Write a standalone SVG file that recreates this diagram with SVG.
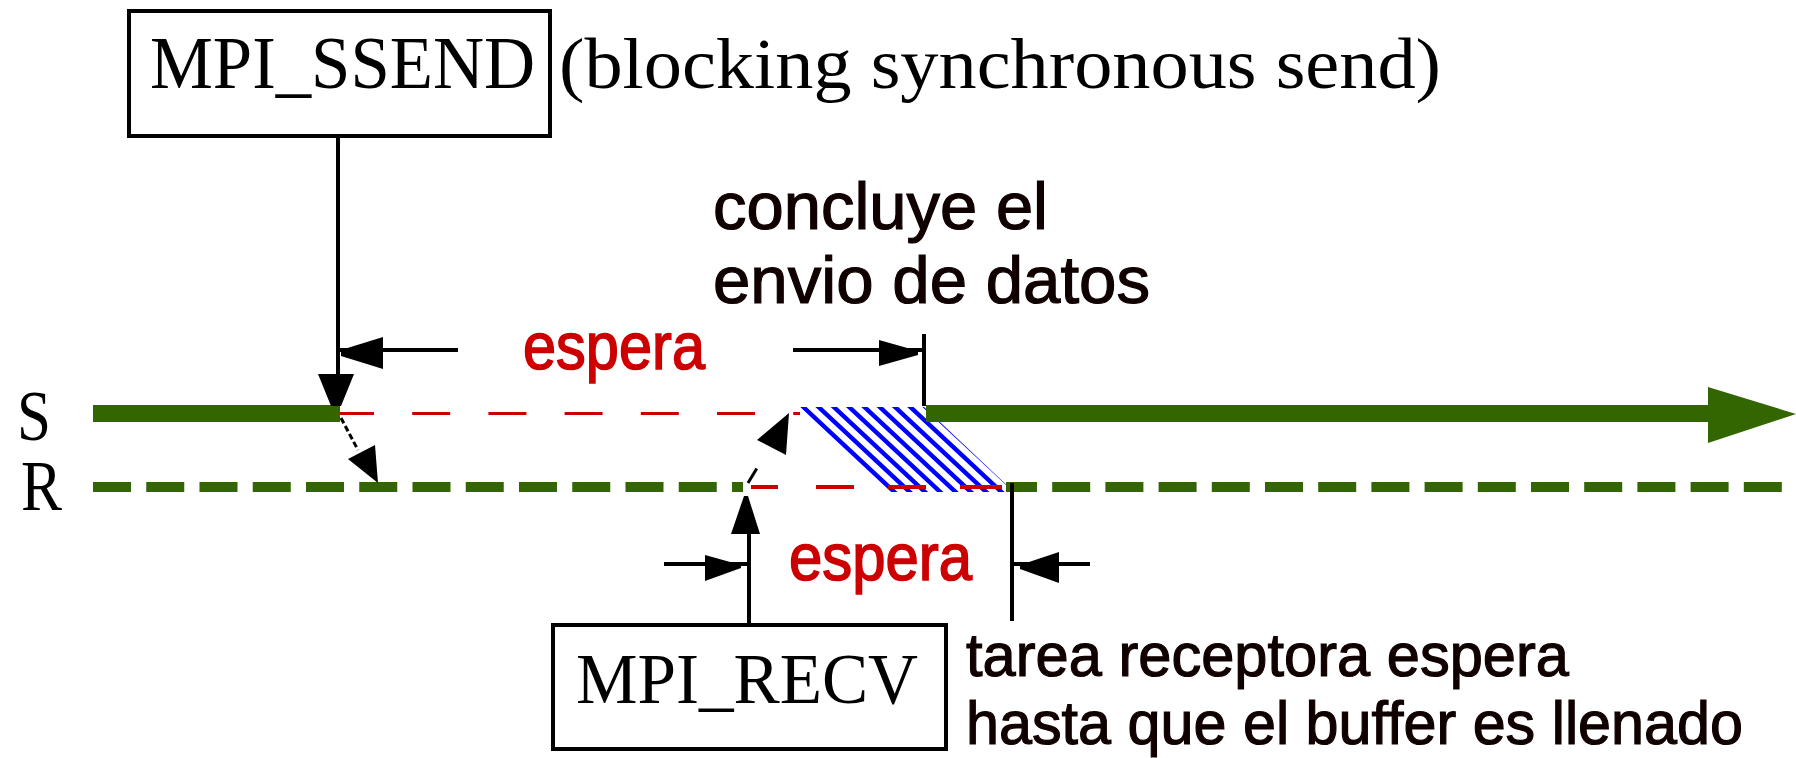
<svg xmlns="http://www.w3.org/2000/svg" width="1796" height="758" viewBox="0 0 1796 758">
  <style>
    .serif { font-family: "Liberation Serif", "Times New Roman", serif; fill: #000; }
    .sans  { font-family: "Liberation Sans", Arial, sans-serif; fill: #100000; stroke: #100000; stroke-width: 1.2; }
    .wait  { font-family: "Liberation Sans", Arial, sans-serif; fill: #cc0000; stroke: #cc0000; stroke-width: 1.6; }
    .box   { fill: #fff; stroke: #000; stroke-width: 4; }
    .dim   { stroke: #000; stroke-width: 4; fill: none; }
    .head  { fill: #000; stroke: none; }
    .dot   { stroke: #000; stroke-width: 3; fill: none; }
    .idle  { stroke: #cc0000; fill: none; }
    .run   { stroke: #336600; fill: none; }
    .hatch { stroke: #0000ff; stroke-width: 4.4; fill: none; }
  </style>
  <defs>
    <clipPath id="transfer">
      <polygon points="800,407 924,407 1014,492 888,492"/>
    </clipPath>
  </defs>

  <rect width="1796" height="758" fill="#fff"/>

  <!-- process labels -->
  <g id="label-S"><text class="serif" x="17" y="440" font-size="72" textLength="34" lengthAdjust="spacingAndGlyphs">S</text></g>
  <g id="label-R"><text class="serif" x="21" y="510" font-size="72" textLength="41" lengthAdjust="spacingAndGlyphs">R</text></g>

  <!-- timelines -->
  <g id="timelines">
    <!-- transfer region: diagonal blue stripes clipped to the parallelogram -->
    <path class="hatch" clip-path="url(#transfer)"
          d="M703.95 400l107.2 100M719.25 400l107.2 100M734.55 400l107.2 100M749.85 400l107.2 100M765.15 400l107.2 100M780.45 400l107.2 100M795.75 400l107.2 100M811.05 400l107.2 100M826.35 400l107.2 100M841.65 400l107.2 100M856.95 400l107.2 100M872.25 400l107.2 100M887.55 400l107.2 100M902.85 400l107.2 100M918.15 400l107.2 100"/>
    <!-- sender waiting -->
    <line class="idle" x1="340" y1="413.5" x2="800" y2="413.5" stroke-width="3" stroke-dasharray="38 38.2" stroke-dashoffset="4"/>
    <!-- sender active -->
    <line class="run" x1="93" y1="413.5" x2="340" y2="413.5" stroke-width="17"/>
    <line class="run" x1="926" y1="413.5" x2="1712" y2="413.5" stroke-width="17"/>
    <polygon points="1708,387 1796,414 1708,443" fill="#336600"/>
    <!-- receiver -->
    <line class="run" x1="93" y1="487" x2="743" y2="487" stroke-width="10" stroke-dasharray="38 15.25"/>
    <line class="run" x1="1006" y1="487" x2="1782" y2="487" stroke-width="10" stroke-dasharray="38 15.2" stroke-dashoffset="7"/>
    <!-- receiver waiting -->
    <path class="idle" d="M751 487H778M816 487H854M888 487H926M960 487H1002" stroke-width="4"/>
  </g>

  <!-- MPI_SSEND call -->
  <g id="node-ssend">
    <rect class="box" x="129" y="11" width="421" height="125"/>
    <text class="serif" x="150" y="88" font-size="73" textLength="385" lengthAdjust="spacingAndGlyphs">MPI_SSEND</text>
  </g>
  <g id="note-ssend">
    <text class="serif" x="559" y="88" font-size="72" textLength="882" lengthAdjust="spacingAndGlyphs">(blocking synchronous send)</text>
  </g>

  <!-- MPI_RECV call -->
  <g id="node-recv">
    <rect class="box" x="553" y="625" width="393" height="124"/>
    <text class="serif" x="576" y="703" font-size="72" textLength="342" lengthAdjust="spacingAndGlyphs">MPI_RECV</text>
  </g>

  <!-- annotations -->
  <g id="note-done">
    <text class="sans" x="713" y="229" font-size="67" textLength="335" lengthAdjust="spacingAndGlyphs">concluye el</text>
    <text class="sans" x="713" y="303" font-size="67" textLength="437" lengthAdjust="spacingAndGlyphs">envio de datos</text>
  </g>
  <g id="note-wait-send">
    <text class="wait" x="523" y="369" font-size="66" textLength="182" lengthAdjust="spacingAndGlyphs">espera</text>
  </g>
  <g id="note-wait-recv">
    <text class="wait" x="789" y="580" font-size="66" textLength="183" lengthAdjust="spacingAndGlyphs">espera</text>
  </g>
  <g id="note-recv">
    <text class="sans" x="966" y="676" font-size="62" textLength="603" lengthAdjust="spacingAndGlyphs">tarea receptora espera</text>
    <text class="sans" x="966" y="744" font-size="62" textLength="777" lengthAdjust="spacingAndGlyphs">hasta que el buffer es llenado</text>
  </g>

  <!-- connectors and dimension arrows -->
  <g id="connectors">
    <!-- MPI_SSEND down to S -->
    <line class="dim" x1="338" y1="136" x2="338" y2="378"/>
    <polygon class="head" points="318,374 354,374 341,406 331,406"/>
    <!-- sender wait span -->
    <line class="dim" x1="338" y1="350" x2="458" y2="350"/>
    <polygon class="head" points="341,350 341,356 383,369 383,337"/>
    <line class="dim" x1="793" y1="350" x2="924" y2="350"/>
    <polygon class="head" points="879,340 879,366 918,355 918,351"/>
    <line class="dim" x1="924" y1="334" x2="924" y2="406"/>
    <!-- request S -> R -->
    <line class="dot" x1="341" y1="418" x2="358" y2="450" stroke-dasharray="6 3"/>
    <polygon class="head" points="348,459 375,445 378,483"/>
    <!-- reply R -> S -->
    <line class="dot" x1="748" y1="483" x2="766" y2="453" stroke-dasharray="17 30"/>
    <polygon class="head" points="789,413 757,440 786,455"/>
    <!-- MPI_RECV up to R -->
    <line class="dim" x1="749" y1="530" x2="749" y2="623"/>
    <polygon class="head" points="731,534 760,534 748,496 744,496"/>
    <!-- receiver wait span -->
    <line class="dim" x1="664" y1="564" x2="749" y2="564"/>
    <polygon class="head" points="705,555 705,581 741,568 741,565"/>
    <line class="dim" x1="1012" y1="483" x2="1012" y2="621"/>
    <line class="dim" x1="1012" y1="564" x2="1090" y2="564"/>
    <polygon class="head" points="1020,565 1020,569 1059,583 1059,552"/>
  </g>
</svg>
